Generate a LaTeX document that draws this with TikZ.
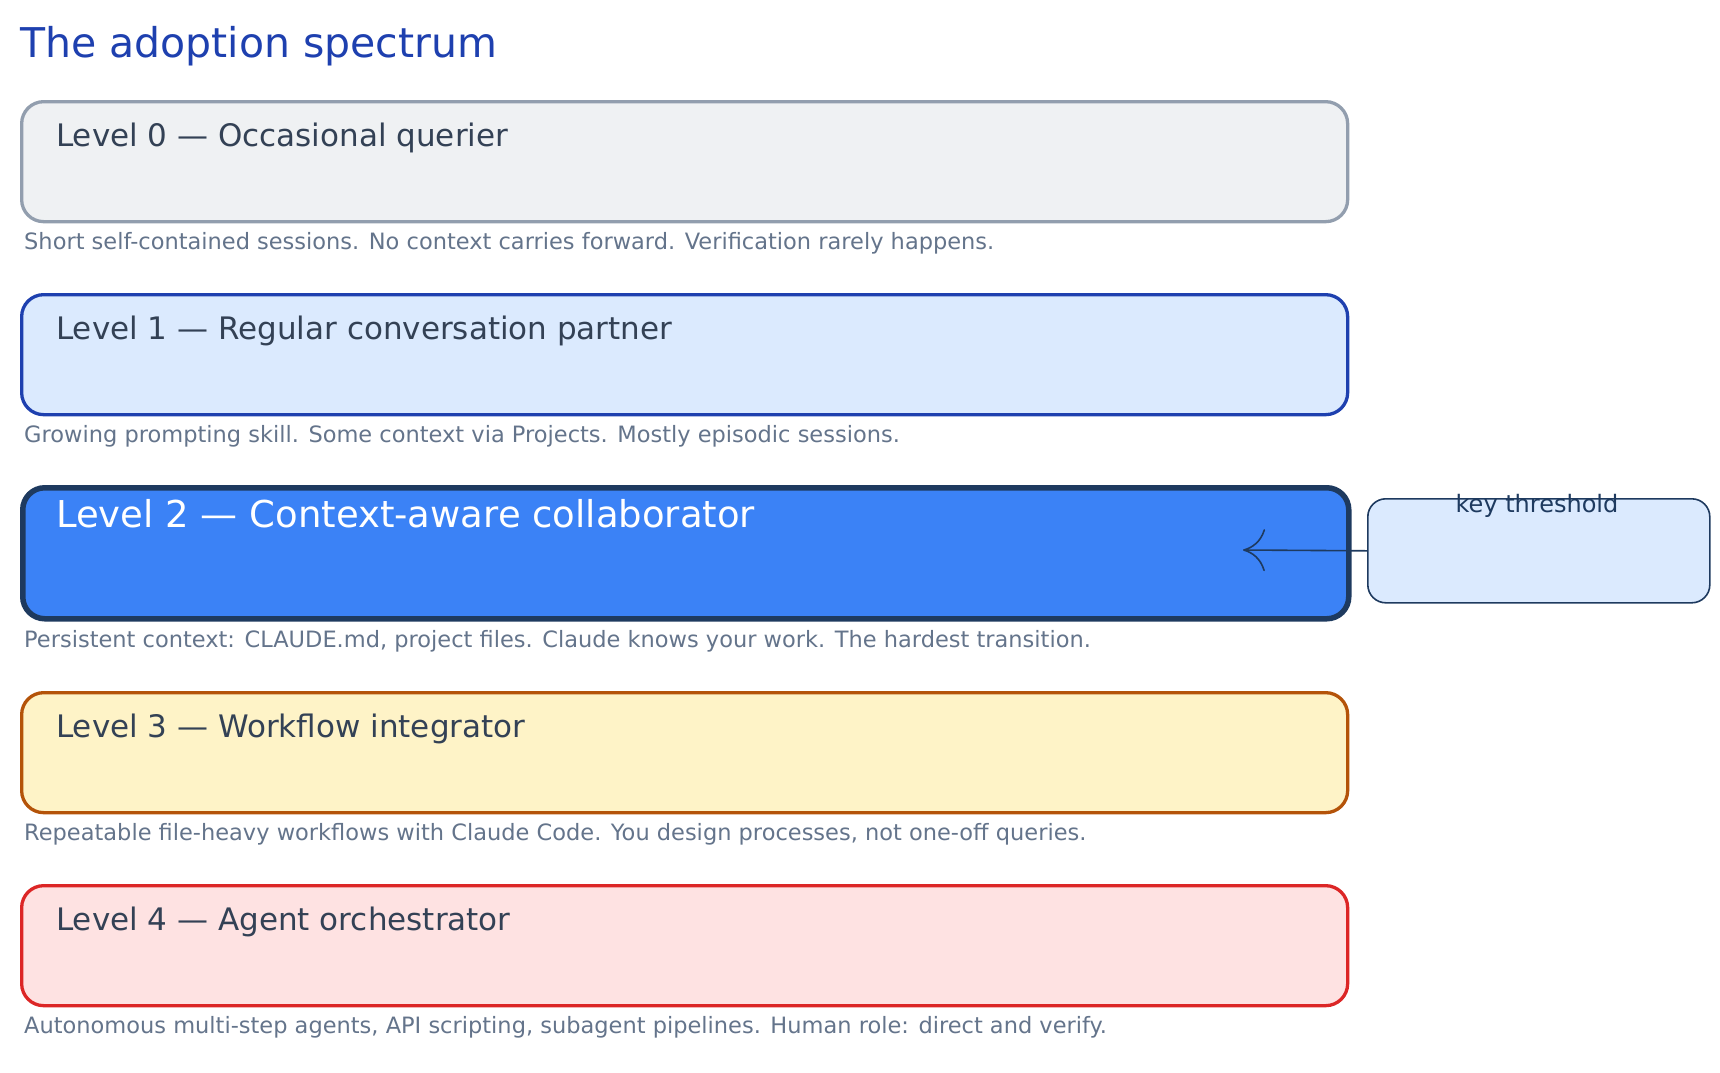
\documentclass[tikz,border=0pt]{standalone}
\usepackage{fontspec}
\setmainfont{DejaVu Sans}
\usetikzlibrary{positioning}
\usetikzlibrary{arrows.meta}
\definecolor{titleblue}{HTML}{1E40AF}
\definecolor{labelgray}{HTML}{334155}
\definecolor{descgray}{HTML}{64748B}
\definecolor{navy}{HTML}{1E3A5F}
\tikzset{
  level/.style={draw, rounded corners=22pt, line width=3.3pt, minimum width=1326pt, minimum height=120pt, anchor=north west, inner sep=0pt},
  leveltext/.style={anchor=base west, text=labelgray, font=\fontsize{31}{36}\selectfont, inner sep=0pt},
  desc/.style={anchor=base west, text=descgray, font=\fontsize{22.5}{26}\selectfont, inner sep=0pt},
}
\begin{document}
\begin{tikzpicture}[x=1pt, y=-1pt]
            % Frame
            \useasboundingbox (0,0) rectangle (1720,1072);
            \node[anchor=base west, text=titleblue, font=\fontsize{41}{48}\selectfont, inner sep=0pt] (title) at (20,57) {The adoption spectrum};
            % Level 0
            \node[level, draw=descgray!70, fill=descgray!10] (lvl0) at (20,100) {};
            \node[leveltext] (lvl0text) at (56,146) {Level 0 — Occasional querier};
            \node[desc] (lvl0desc) at (24,249) {Short self-contained sessions. No context carries forward. Verification rarely happens.};
            % Level 1
            \node[level, draw=titleblue, fill={rgb,255:red,219;green,234;blue,254}] (lvl1) at (20,293) {};
            \node[leveltext] (lvl1text) at (56,339) {Level 1 — Regular conversation partner};
            \node[desc] (lvl1desc) at (24,442) {Growing prompting skill. Some context via Projects. Mostly episodic sessions.};
            % Level 2
            \node[level, line width=5.5pt, minimum height=131pt, draw=navy, fill={rgb,255:red,59;green,130;blue,246}] (lvl2) at (20,485) {};
            \node[leveltext, text=white, font=\fontsize{37}{42}\selectfont] (lvl2text) at (56,527) {Level 2 — Context-aware collaborator};
            \node[desc] (lvl2desc) at (24,647) {Persistent context: CLAUDE.md, project files. Claude knows your work. The hardest transition.};
            % Level 3
            \node[level, draw={rgb,255:red,180;green,83;blue,9}, fill={rgb,255:red,254;green,243;blue,199}] (lvl3) at (20,691) {};
            \node[leveltext] (lvl3text) at (56,737) {Level 3 — Workflow integrator};
            \node[desc] (lvl3desc) at (24,840) {Repeatable file-heavy workflows with Claude Code. You design processes, not one-off queries.};
            % Level 4
            \node[level, draw={rgb,255:red,220;green,38;blue,38}, fill={rgb,255:red,254;green,226;blue,226}] (lvl4) at (20,884) {};
            \node[leveltext] (lvl4text) at (56,930) {Level 4 — Agent orchestrator};
            \node[desc] (lvl4desc) at (24,1033) {Autonomous multi-step agents, API scripting, subagent pipelines. Human role: direct and verify.};
            % Key threshold
            \node[draw=navy, line width=1.6pt, rounded corners=18pt, fill={rgb,255:red,219;green,234;blue,254}, minimum width=342pt, minimum height=104pt, anchor=north west] (key) at (1367,498) {};
            \node[anchor=base, text=navy, font=\fontsize{24}{28}\selectfont, inner sep=0pt] (keytext) at (1537,512) {key threshold};
            \coordinate (keytip) at (1243,550);
            \draw[navy, line width=1.6pt, -{To[length=22pt, width=42pt]}] (key.west) -- (keytip);
        \end{tikzpicture}
\end{document}
